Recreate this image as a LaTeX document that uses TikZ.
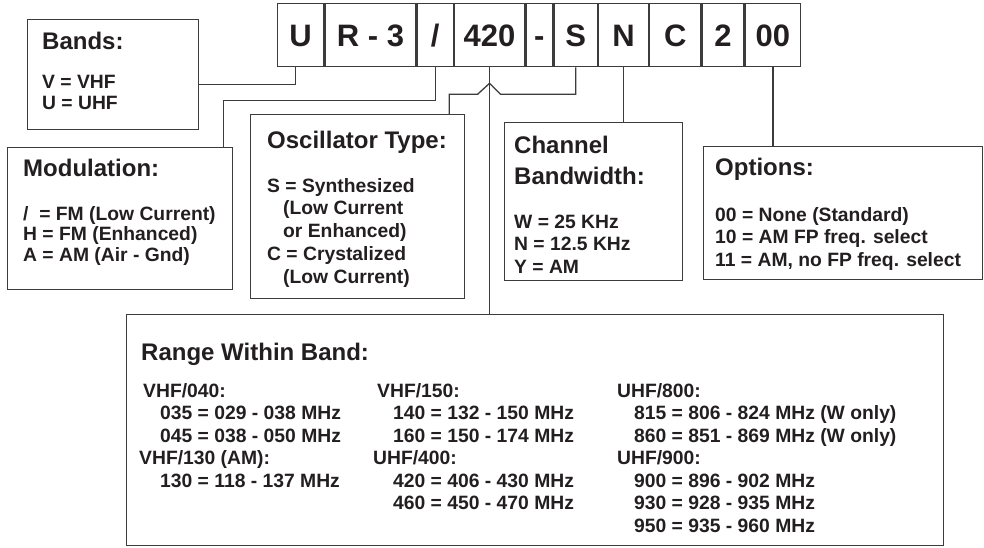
\documentclass[tikz,border=0pt]{standalone}
\usepackage{fontspec}
\setmainfont{Liberation Sans}
\usetikzlibrary{positioning}

\definecolor{ink}{RGB}{35,31,32}
\definecolor{rule}{RGB}{60,60,60}

\begin{document}
\begin{tikzpicture}[
    x=1pt, y=-1pt,
    every node/.style={text=ink},
    cell/.style={draw=rule, line width=1.3pt, inner sep=0pt, minimum height=63pt,
        text height=22pt, text depth=0pt, font=\fontsize{31}{31}\selectfont\bfseries},
    box/.style={draw=rule, line width=1.3pt, anchor=north west, inner sep=0pt},
    head/.style={anchor=base west, inner sep=0pt, font=\fontsize{24}{31}\selectfont\bfseries},
    item/.style={anchor=base west, inner sep=0pt, font=\fontsize{19.3}{22}\selectfont\bfseries},
    link/.style={draw=rule, line width=1.3pt},
]
    \useasboundingbox (0,0) rectangle (984,547);

    % part number
    \node[cell, minimum width=46pt, anchor=north west] (cu) at (277,3) {U};
    \node[cell, minimum width=91pt, right=0pt of cu] (cr) {R - 3};
    \node[cell, minimum width=36pt, right=0pt of cr] (cslash) {/};
    \node[cell, minimum width=70pt, right=0pt of cslash] (c420) {420};
    \node[cell, minimum width=27pt, right=0pt of c420] (cdash) {-};
    \node[cell, minimum width=43pt, right=0pt of cdash] (cs) {S};
    \node[cell, minimum width=50pt, right=0pt of cs] (cn) {N};
    \node[cell, minimum width=51pt, right=0pt of cn] (cc) {C};
    \node[cell, minimum width=42pt, right=0pt of cc] (c2) {2};
    \node[cell, minimum width=55pt, right=0pt of c2] (c00) {00};

    % boxes
    \node[box, minimum width=171pt, minimum height=110pt] (bands) at (27,19) {};
    \node[box, minimum width=225pt, minimum height=142pt] (mod) at (7,147) {};
    \node[box, minimum width=214pt, minimum height=184pt] (osc) at (250,114) {};
    \node[box, minimum width=178pt, minimum height=158pt] (chan) at (504,122) {};
    \node[box, minimum width=279pt, minimum height=133pt] (opt) at (703,146) {};
    \node[box, minimum width=817pt, minimum height=231pt] (range) at (126,314) {};

    % connectors
    \draw[link] ([xshift=-5pt]cu.south) |- ([yshift=-10pt]bands.east);
    \draw[link] (cslash.south) -- ++(0,33) -| ([xshift=-10pt]mod.north east);
    \draw[link] (c420.south) -- (c420.south |- range.north);
    \coordinate (hop) at ([yshift=-16pt]c420.south);
    \draw[link] (cs.south) |- ([shift={(11pt,-11pt)}]hop) -- (hop) -- ++(-12pt,-11pt)
        -| ([xshift=-16pt]osc.north east);
    \draw[link] (cn.south) -- (cn.south |- chan.north);
    \draw[link] (c00.south) -- (c00.south |- opt.north);

    % Bands
    \node[head] (bandsT) at (42,49) {Bands:};
    \foreach \txt [count=\i from 0] in {{V = VHF}, {U = UHF}}
        \node[item] (bands\i) at (42, 88+21*\i) {\txt};

    % Modulation
    \node[head] (modT) at (23,176) {Modulation:};
    \foreach \txt [count=\i from 0] in {{/\ \ = FM (Low Current)}, {H = FM (Enhanced)}, {A = AM (Air - Gnd)}}
        \node[item] (mod\i) at (23, 220+20.5*\i) {\txt};

    % Oscillator Type
    \node[head] (oscT) at (267,148) {Oscillator Type:};
    \foreach \px/\txt [count=\i from 0] in {267/{S = Synthesized}, 283/{(Low Current}, 283/{or Enhanced)},
            267/{C = Crystalized}, 283/{(Low Current)}}
        \node[item] (osc\i) at (\px, 192+22.75*\i) {\txt};

    % Channel Bandwidth
    \node[head] (chanT) at (514,153) {Channel};
    \node[head] (chanU) at (514,184) {Bandwidth:};
    \foreach \txt [count=\i from 0] in {{W = 25 KHz}, {N = 12.5 KHz}, {Y = AM}}
        \node[item] (chan\i) at (514, 228+22.5*\i) {\txt};

    % Options
    \node[head] (optT) at (715,175) {Options:};
    \foreach \txt [count=\i from 0] in {{00 = None (Standard)}, {10 = AM FP freq. select},
            {11 = AM, no FP freq. select}}
        \node[item] (opt\i) at (715, 221+22.5*\i) {\txt};

    % Range Within Band
    \node[head] (rangeT) at (141,360) {Range Within Band:};
    \foreach \px/\txt [count=\i from 0] in {143/{VHF/040:}, 160/{035 = 029 - 038 MHz},
            160/{045 = 038 - 050 MHz}, 139/{VHF/130 (AM):}, 160/{130 = 118 - 137 MHz}}
        \node[item] (rga\i) at (\px, 397+22.5*\i) {\txt};
    \foreach \px/\txt [count=\i from 0] in {377/{VHF/150:}, 393/{140 = 132 - 150 MHz},
            393/{160 = 150 - 174 MHz}, 373/{UHF/400:}, 393/{420 = 406 - 430 MHz},
            393/{460 = 450 - 470 MHz}}
        \node[item] (rgb\i) at (\px, 397+22.5*\i) {\txt};
    \foreach \px/\txt [count=\i from 0] in {617/{UHF/800:}, 634/{815 = 806 - 824 MHz (W only)},
            634/{860 = 851 - 869 MHz (W only)}, 617/{UHF/900:}, 634/{900 = 896 - 902 MHz},
            634/{930 = 928 - 935 MHz}, 634/{950 = 935 - 960 MHz}}
        \node[item] (rgc\i) at (\px, 397+22.5*\i) {\txt};
\end{tikzpicture}
\end{document}
